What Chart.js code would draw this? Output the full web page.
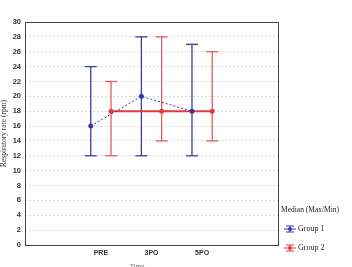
<!DOCTYPE html>
<html>
<head>
<meta charset="utf-8">
<script src="https://cdn.jsdelivr.net/npm/chart.js@4/dist/chart.umd.min.js"></script>
<style>
html, body { margin: 0; padding: 0; background: #fff; }
#wrap { width: 352px; height: 267px; }
</style>
</head>
<body>
<div id="wrap"><canvas id="c"></canvas></div>
<script>
// time points (category slots, first and last are empty)
const timeLabels = ["", "PRE", "3PO", "5PO", ""];
const timePos = [1, 2, 3];

// Group 1 - median (max/min)
const g1Median = [16, 20, 18];
const g1Min = [12, 12, 12];
const g1Max = [24, 28, 27];

// Group 2 - median (max/min)
const g2Median = [18, 18, 18];
const g2Min = [12, 14, 14];
const g2Max = [22, 28, 26];

const BLUE = "#3a3aa6";
const RED = "#e23a3a";
const RED_BAR = "#e65a5a";
const OFF = 0.2;

function medianSet(label, med, shift, color, opts) {
    return Object.assign({
        label: label,
        data: timePos.map((t, i) => ({ x: t + shift, y: med[i] })),
        showLine: true,
        borderColor: color,
        backgroundColor: color,
        pointRadius: 2.5,
        pointHoverRadius: 2.5,
        pointBorderWidth: 0,
        order: 0
    }, opts);
}

function barSets(lo, hi, shift, color, width) {
    return timePos.map((t, i) => ({
        label: "_bar",
        data: [{ x: t + shift, y: lo[i] }, { x: t + shift, y: hi[i] }],
        showLine: true,
        borderColor: color,
        borderWidth: width,
        pointStyle: "line",
        pointRadius: 6,
        pointBorderColor: color,
        pointBorderWidth: width,
        order: 1
    }));
}

const datasets = [
    medianSet("Group 1", g1Median, -OFF, BLUE, { borderWidth: 1, borderDash: [2, 2] }),
    medianSet("Group 2", g2Median, OFF, RED, { borderWidth: 2 }),
    ...barSets(g1Min, g1Max, -OFF, BLUE, 1.3),
    ...barSets(g2Min, g2Max, OFF, RED_BAR, 1.3)
];

function legendIcon(ctx, x, y, color) {
    ctx.save();
    ctx.strokeStyle = color;
    ctx.fillStyle = color;
    ctx.lineWidth = 1;
    ctx.beginPath();
    ctx.moveTo(x - 6, y); ctx.lineTo(x + 6, y);
    ctx.moveTo(x - 4, y - 3); ctx.lineTo(x + 4, y - 3);
    ctx.moveTo(x - 4, y + 3); ctx.lineTo(x + 4, y + 3);
    ctx.moveTo(x, y - 3); ctx.lineTo(x, y + 3);
    ctx.stroke();
    ctx.beginPath();
    ctx.arc(x, y, 2, 0, Math.PI * 2);
    ctx.fill();
    ctx.restore();
}

const framePlugin = {
    id: "frame",
    afterDraw(chart) {
        const a = chart.chartArea;
        const ctx = chart.ctx;
        ctx.save();
        ctx.strokeStyle = "#444";
        ctx.lineWidth = 1;
        ctx.strokeRect(a.left + 0.5, a.top + 0.5, a.right - a.left, a.bottom - a.top);

        // legend
        ctx.fillStyle = "#222";
        ctx.font = "7.5px 'Liberation Serif'";
        ctx.textBaseline = "middle";
        ctx.fillText("Median (Max/Min)", 281, 210);
        legendIcon(ctx, 290, 229, BLUE);
        legendIcon(ctx, 290, 248, RED);
        ctx.fillStyle = "#222";
        ctx.font = "8px 'Liberation Serif'";
        ctx.fillText(chart.data.datasets[0].label, 298, 229);
        ctx.fillText(chart.data.datasets[1].label, 298, 248);

        // x title (cut at bottom edge)
        ctx.font = "7px 'Liberation Serif'";
        ctx.textAlign = "center";
        ctx.textBaseline = "top";
        ctx.fillStyle = "#666";
        ctx.fillText("Time", 137, 263);
        ctx.restore();
    }
};

new Chart(document.getElementById("c"), {
    type: "scatter",
    data: { datasets: datasets },
    options: {
        responsive: true,
        maintainAspectRatio: false,
        animation: false,
        layout: { padding: { top: 22, right: 74, left: 0, bottom: 0 } },
        plugins: {
            legend: { display: false },
            tooltip: { enabled: false }
        },
        scales: {
            x: {
                type: "linear",
                min: -0.5,
                max: 4.5,
                afterBuildTicks(scale) {
                    scale.ticks = timeLabels.map((l, i) => ({ value: i }));
                },
                afterFit(scale) { scale.height = 22; },
                grid: { display: false, drawTicks: false },
                border: { display: false },
                ticks: {
                    padding: 4,
                    color: "#333",
                    font: { family: "Liberation Sans", size: 7, weight: "bold" },
                    callback: (v) => timeLabels[v]
                }
            },
            y: {
                min: 0,
                max: 30,
                afterFit(scale) { scale.width = 25; },
                grid: {
                    color: "#d0d0d0",
                    lineWidth: 0.8,
                    drawTicks: false
                },
                border: { display: false, dash: [2, 2] },
                ticks: {
                    stepSize: 2,
                    padding: 4,
                    color: "#333",
                    font: { family: "Liberation Sans", size: 7.5, weight: "bold" }
                },
                title: {
                    display: true,
                    text: "Respiratory rate (rpm)",
                    color: "#333",
                    padding: 0,
                    font: { family: "Liberation Serif", size: 7.5 }
                }
            }
        }
    },
    plugins: [framePlugin]
});
</script>
</body>
</html>
